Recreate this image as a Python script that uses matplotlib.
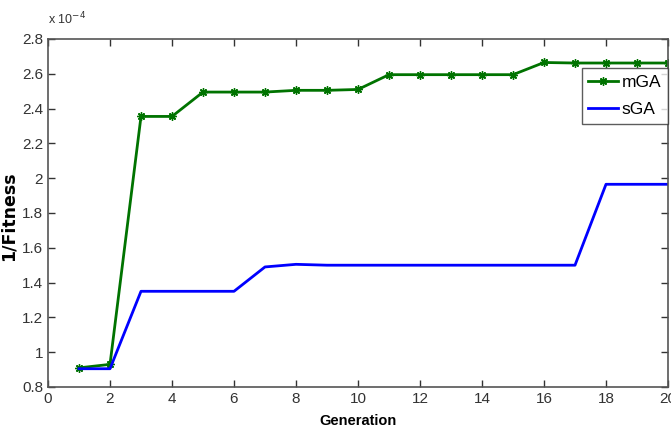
import matplotlib
matplotlib.use("Agg")
import matplotlib.pyplot as plt
from matplotlib.ticker import FixedLocator

gen = list(range(1, 21))
mga = [0.91, 0.93, 2.355, 2.355, 2.495, 2.495, 2.495, 2.505, 2.505, 2.51,
       2.595, 2.595, 2.595, 2.595, 2.595, 2.665, 2.662, 2.662, 2.662, 2.662]
sga = [0.905, 0.905, 1.35, 1.35, 1.35, 1.35, 1.49, 1.505, 1.50, 1.50,
       1.50, 1.50, 1.50, 1.50, 1.50, 1.50, 1.50, 1.965, 1.965, 1.965]
xticks = [0, 2, 4, 6, 8, 10, 12, 14, 16, 18, 20]
yticks = [0.8, 1.0, 1.2, 1.4, 1.6, 1.8, 2.0, 2.2, 2.4, 2.6, 2.8]
ytick_labels = ["0.8", "1", "1.2", "1.4", "1.6", "1.8", "2", "2.2", "2.4", "2.6", "2.8"]

plt.rcParams['font.family'] = ['Liberation Sans Narrow', 'Liberation Sans', 'DejaVu Sans']

fig = plt.figure(figsize=(6.71, 4.32), dpi=100)
ax = fig.add_axes([48/671, 45/432, 620/671, 348/432])

ax.plot(gen, mga, color=(0, 0.45, 0), lw=2, marker=(8, 2, 0), ms=6, mew=1.0, label='mGA')
ax.plot(gen, sga, color=(0, 0, 1), lw=2, label='sGA')

ax.set_xlim(0, 20)
ax.set_ylim(0.8, 2.8)
ax.xaxis.set_major_locator(FixedLocator(xticks))
ax.set_yticks(yticks)
ax.set_yticklabels(ytick_labels)
ax.tick_params(direction='in', top=True, right=True, length=5, width=1, colors='#333333',
               labelsize=11, labelcolor='#333333')
for s in ax.spines.values():
    s.set_color('#555555')
    s.set_linewidth(1.2)

ax.set_xlabel('Generation', fontsize=10.5, fontweight='bold', family=['Liberation Sans', 'DejaVu Sans'], labelpad=6)
ax.set_ylabel('1/Fitness', fontsize=12.5, fontweight='bold', family=['DejaVu Sans'])
ax.yaxis.set_label_coords(-30/620, 0.49)
fig.text(48/671, 1 - 27/432, r'x 10$^{-4}$', fontsize=9, color='#333333', ha='left', va='bottom')

leg = ax.legend(loc='upper right', bbox_to_anchor=(1.0, 0.917), fontsize=12.5, frameon=True,
                fancybox=False, edgecolor='#333333', handlelength=1.7, borderpad=0.4,
                labelspacing=0.7, handletextpad=0.2, borderaxespad=0.0)
leg.get_frame().set_linewidth(1.0)

fig.savefig('out.png', dpi=100)
